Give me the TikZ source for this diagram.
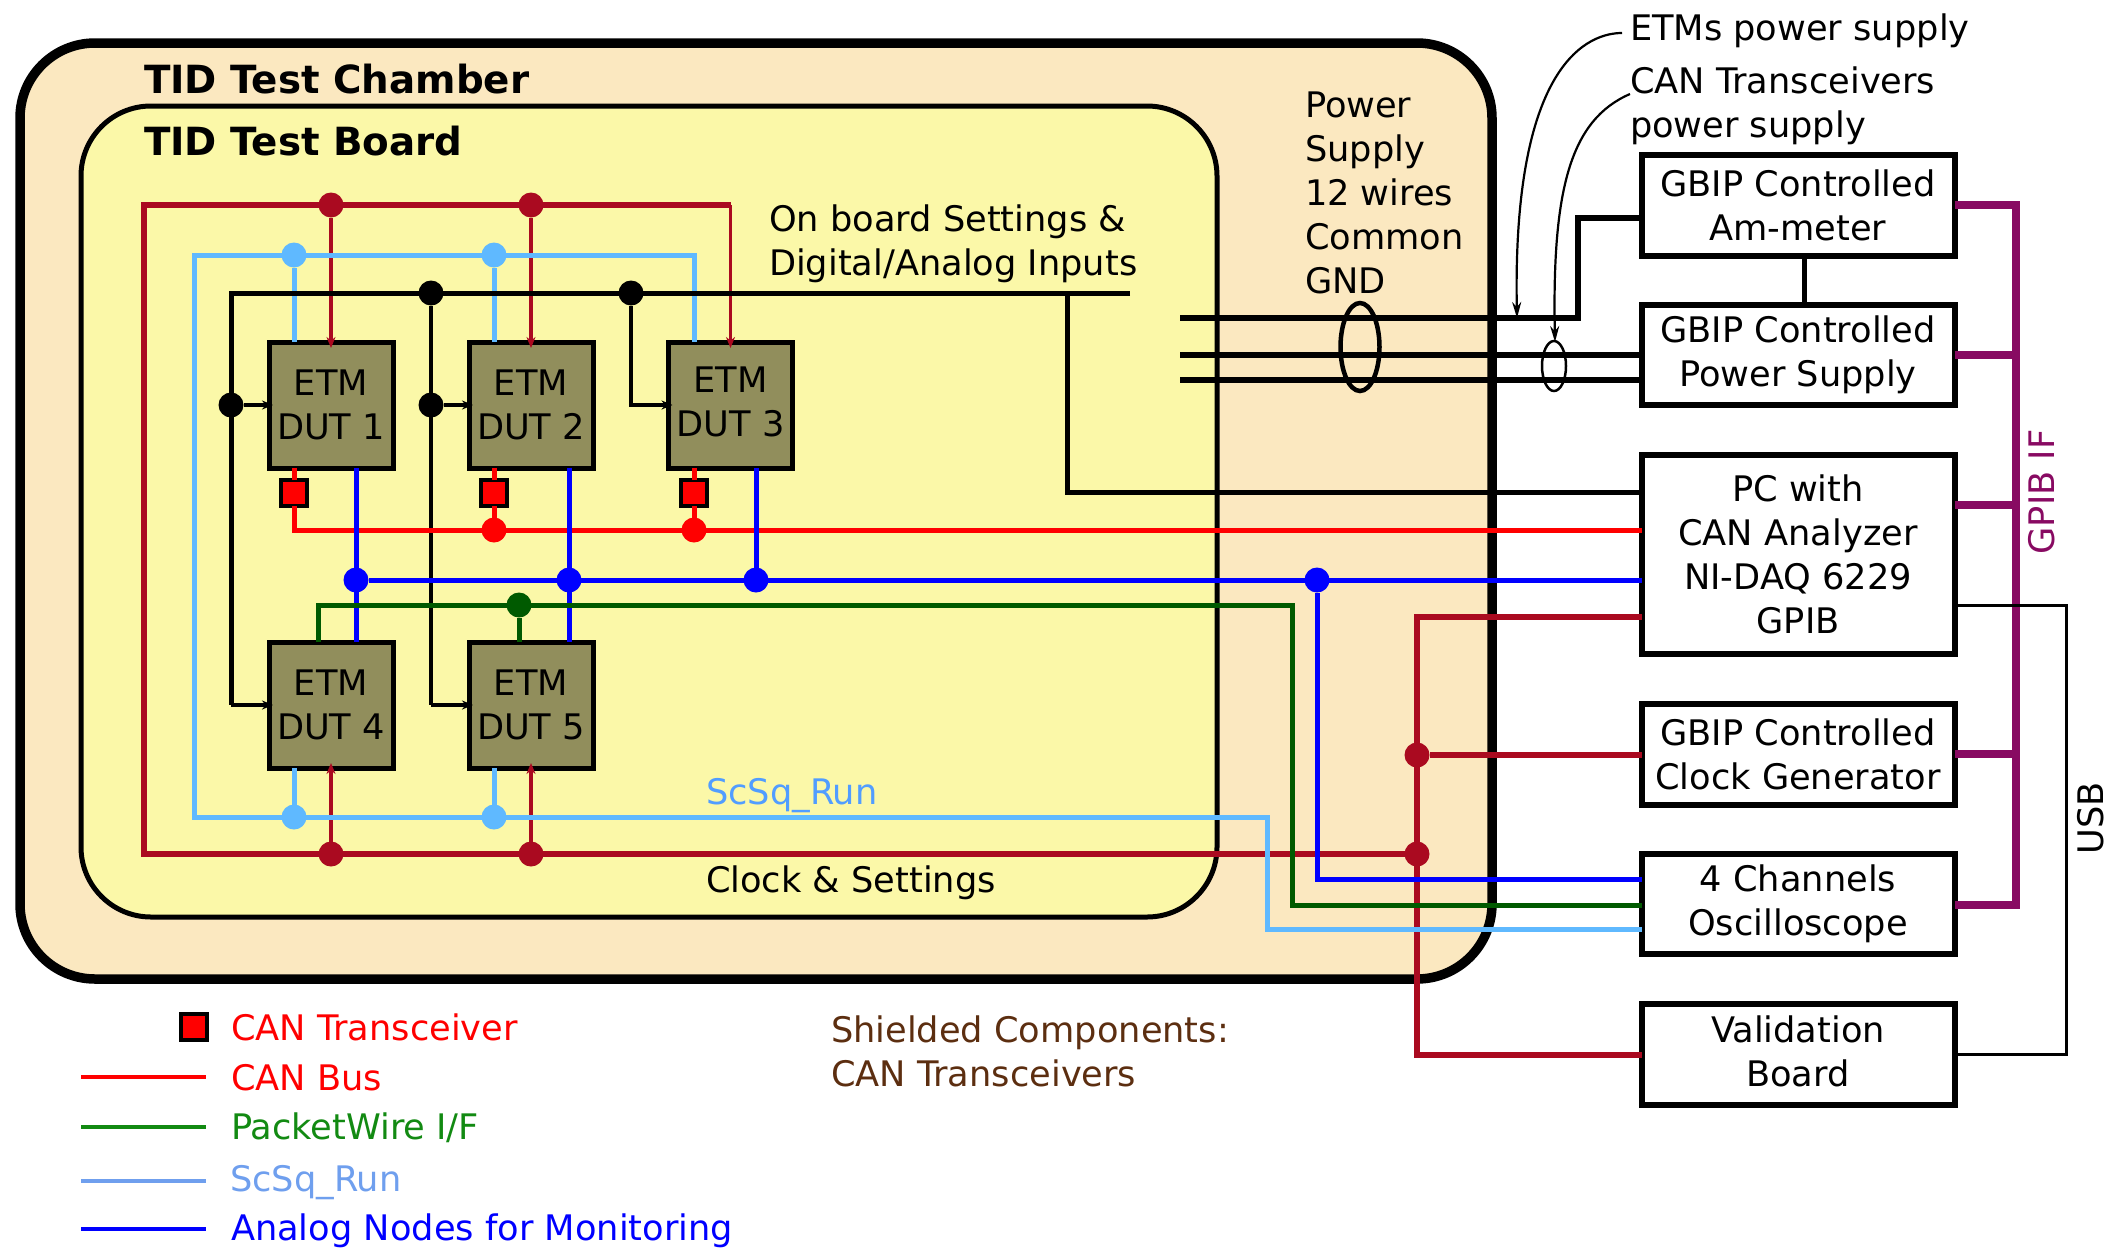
\documentclass[tikz,border=0pt]{standalone}
\usepackage{fontspec}
\setmainfont{DejaVu Sans}
\usetikzlibrary{arrows.meta,calc,shapes.geometric}
\definecolor{chamber}{HTML}{FBE8C0}
\definecolor{board}{HTML}{FBF8A8}
\definecolor{dutfill}{HTML}{918E5C}
\definecolor{dred}{HTML}{AA0A20}
\definecolor{lblue}{HTML}{5FB9FF}
\definecolor{dgreen}{HTML}{005A00}
\definecolor{gpib}{HTML}{880A62}
\definecolor{lgreen}{HTML}{128A12}
\definecolor{lgblue}{HTML}{6F9FEE}
\definecolor{brownt}{HTML}{5C2E10}
\tikzset{
  x=1pt,y=-1pt,
  txt/.style={anchor=base west,inner sep=0pt,outer sep=0pt,font=\fontsize{35.2}{44}\selectfont,align=left},
  ttl/.style={anchor=base west,inner sep=0pt,outer sep=0pt,font=\bfseries\fontsize{38.8}{44}\selectfont},
  dutbox/.style={draw=black,fill=dutfill,line width=5pt,minimum width=124pt,minimum height=126pt,inner sep=0pt,outer sep=0pt,align=center,font=\fontsize{35.2}{44}\selectfont},
  devbox/.style={draw=black,fill=white,line width=6pt,minimum width=313pt,inner sep=0pt,outer sep=0pt,align=center,font=\fontsize{35.2}{44}\selectfont},
  canbox/.style={draw=black,fill=red,line width=4.5pt,minimum width=26pt,minimum height=26pt,inner sep=0pt,outer sep=0pt},
  jdot/.style={circle,fill=#1,draw=none,minimum size=25pt,inner sep=0pt,outer sep=0pt},
  wire/.style={line width=#1,line join=miter},
  tipd/.style={-{Stealth[length=11pt,width=9pt]}},
  tips/.style={-{Stealth[length=16pt,width=9pt]}},
}
\begin{document}
\begin{tikzpicture}
\useasboundingbox (0,0) rectangle (2118,1248);
% enclosures
\node[draw=black,fill=chamber,line width=9.5pt,rounded corners=75pt,minimum width=1472pt,minimum height=936pt,inner sep=0pt,outer sep=0pt] (chamberbox) at (756,511) {};
\node[draw=black,fill=board,line width=5pt,rounded corners=70pt,minimum width=1136pt,minimum height=811pt,inner sep=0pt,outer sep=0pt] (boardbox) at (649,511.5) {};
\node[ttl] (chambertitle) at (144,93) {TID Test Chamber};
\node[ttl] (boardtitle) at (144,155) {TID Test Board};

% devices
\node[dutbox] (d1) at (331,405) {ETM\\DUT 1};
\node[dutbox] (d2) at (531,405) {ETM\\DUT 2};
\node[dutbox] (d3) at (730.5,405) {ETM\\DUT 3\rule[-6pt]{0pt}{0pt}};
\node[dutbox] (d4) at (331,705) {ETM\\DUT 4};
\node[dutbox] (d5) at (531,705) {ETM\\DUT 5};
\node[canbox] (c1) at (294,493) {};
\node[canbox] (c2) at (494,493) {};
\node[canbox] (c3) at (694,493) {};

\node[devbox,minimum height=101pt] (amm) at (1798,205.5) {GBIP Controlled\\Am-meter};
\node[devbox,minimum height=100pt] (psu) at (1798,355) {GBIP Controlled\\Power Supply};
\node[devbox,minimum height=199pt] (pc) at (1798,554.5) {PC with\\CAN Analyzer\\NI-DAQ 6229\\GPIB};
\node[devbox,minimum height=101pt] (clk) at (1798,754) {GBIP Controlled\\Clock Generator};
\node[devbox,minimum height=100pt] (osc) at (1798,904) {4 Channels\\Oscilloscope};
\node[devbox,minimum height=101pt] (val) at (1798,1054.5) {Validation\\Board\rule[-6pt]{0pt}{0pt}};

% junctions
\foreach \n/\x/\y/\c in {rt1/331/205/dred,rt2/531/205/dred,rb1/331/854/dred,rb2/531/854/dred,rr1/1417/854/dred,rr2/1417/755/dred,
  lt1/294/255/lblue,lt2/494/255/lblue,lb1/294/817/lblue,lb2/494/817/lblue,
  kt1/431/293/black,kt2/631/293/black,kl1/231/405/black,kl2/431/405/black,
  cd2/494/530/red,cd3/694/530/red,
  ad1/356/580/blue,ad2/569/580/blue,ad3/756/580/blue,ad4/1317/580/blue,
  gd1/519/605/dgreen}
  {\node[jdot=\c] (\n) at (\x,\y) {};}

% free ends and corners
\coordinate (rtl) at (144,205);
\coordinate (rtr) at (730.5,205);
\coordinate (rbl) at (144,854);
\coordinate (ltl) at (194,255);
\coordinate (ltr) at (694,255);
\coordinate (lbl) at (194,817);
\coordinate (lbr) at (1267,817);
\coordinate (ktl) at (231,293);
\coordinate (ktr) at (1130,293);
\coordinate (pcdrop) at (1067,293);
\coordinate (canl) at (294,530);
\coordinate (greenl) at (318,605);
\coordinate (greenr) at (1292,605);
\coordinate (pw1l) at (1180,318);
\coordinate (pw1r) at (1578,318);
\coordinate (pw2l) at (1180,355);
\coordinate (pw3l) at (1180,380);
\coordinate (rvtop) at (1417,617);
\coordinate (rvbot) at (1417,1055);
\coordinate (gpibtop) at (2016,205);
\coordinate (gpibbot) at (2016,905);
\coordinate (usbtop) at (2066,605);
\coordinate (usbbot) at (2066,1054);
\coordinate (etmtail) at (1622,33);
\coordinate (cantail) at (1630,94);
\coordinate (etmhead) at (1517,318);
\coordinate (canhead) at (1555,342);

% dark red clock & settings
\draw[dred,wire=6.5pt] (rtr) -- (rtl) -- (rbl) -- (rr1);
\draw[dred,wire=3.5pt,tipd] (rt1) -- ([yshift=-6pt]d1.north);
\draw[dred,wire=3.5pt,tipd] (rt2) -- ([yshift=-6pt]d2.north);
\draw[dred,wire=3.5pt,tipd] (rtr) -- ([yshift=-6pt]d3.north);
\draw[dred,wire=3.5pt,tipd] (rb1) -- ([yshift=5pt]d4.south);
\draw[dred,wire=3.5pt,tipd] (rb2) -- ([yshift=5pt]d5.south);
\draw[dred,wire=6pt] (rvtop -| pc.west) -- (rvtop) -- (rvbot) -- (rvbot -| val.west);
\draw[dred,wire=6pt] (rr2) -- (rr2 -| clk.west);

% light blue ScSq_Run
\draw[lblue,wire=5pt] (lt1 |- d1.north) -- (lt1);
\draw[lblue,wire=5pt] (lt2 |- d2.north) -- (lt2);
\draw[lblue,wire=5pt] (ltr |- d3.north) -- (ltr) -- (ltl) -- (lbl) -- (lbr) |- (osc.west |- 0,929);
\draw[lblue,wire=5pt] (lb1 |- d4.south) -- (lb1);
\draw[lblue,wire=5pt] (lb2 |- d5.south) -- (lb2);

% black settings
\draw[wire=5pt] (ktr) -- (ktl) -- (ktl |- d4.west);
\draw[wire=4pt,tipd] (ktl |- d4.west) -- ([xshift=4pt]d4.west);
\draw[wire=4.5pt] (kt1) -- (kt1 |- d5.west);
\draw[wire=4pt,tipd] (kt1 |- d5.west) -- ([xshift=4pt]d5.west);
\draw[wire=3.5pt,tipd] (kt2) |- ([xshift=4pt]d3.west);
\draw[wire=4pt,tipd] (kl1) -- ([xshift=4pt]d1.west);
\draw[wire=4pt,tipd] (kl2) -- ([xshift=4pt]d2.west);
\draw[wire=5pt] (pcdrop) |- (pc.west |- 0,492);

% CAN bus
\draw[red,wire=5pt] (c1.north) -- (c1.north |- d1.south);
\draw[red,wire=5pt] (c2.north) -- (c2.north |- d2.south);
\draw[red,wire=5pt] (c3.north) -- (c3.north |- d3.south);
\draw[red,wire=5pt] (c1.south) -- (canl) -- (canl -| pc.west);
\draw[red,wire=5pt] (c2.south) -- (cd2);
\draw[red,wire=5pt] (c3.south) -- (cd3);

% analog monitoring
\draw[blue,wire=5pt] (d1.south -| ad1) -- (d4.north -| ad1);
\draw[blue,wire=5pt] (d2.south -| ad2) -- (d5.north -| ad2);
\draw[blue,wire=5pt] (d3.south -| ad3) -- (ad3);
\draw[blue,wire=5pt] (ad1) -- (ad1 -| pc.west);
\draw[blue,wire=5pt] (ad4) |- (osc.west |- 0,879);

% packet wire
\draw[dgreen,wire=5pt] (greenl |- d4.north) -- (greenl) -- (greenr) |- (osc.west |- 0,905);
\draw[dgreen,wire=5pt] (gd1) -- (gd1 |- d5.north);

% power wires
\draw[wire=6pt] (pw1l) -- (pw1r) |- (amm.west |- 0,218);
\draw[wire=6pt] (pw2l) -- (psu.west |- pw2l);
\draw[wire=6pt] (pw3l) -- (psu.west |- pw3l);
\draw[wire=5pt] (amm.south -| 1804,0) -- (psu.north -| 1804,0);
\node[draw=black,line width=4.5pt,ellipse,minimum width=39pt,minimum height=88pt,inner sep=0pt] (bundleA) at (1360,347) {};
\node[draw=black,line width=2.5pt,ellipse,minimum width=24pt,minimum height=50pt,inner sep=0pt] (bundleB) at (1554,366) {};
\draw[line width=2.2pt,tips] (etmtail) .. controls (1590,33) and (1512,60) .. (etmhead);
\draw[line width=2.2pt,tips] (cantail) .. controls (1570,120) and (1552,190) .. (canhead);

% GPIB and USB
\draw[gpib,wire=7.5pt] (amm.east |- gpibtop) -- (gpibtop) -- (gpibbot) -- (osc.east |- gpibbot);
\draw[gpib,wire=7.5pt] (psu.east) -- (psu.east -| gpibtop);
\draw[gpib,wire=7.5pt] (pc.east |- 0,505) -- (gpibtop |- 0,505);
\draw[gpib,wire=7.5pt] (clk.east) -- (clk.east -| gpibtop);
\draw[wire=3pt] (pc.east |- usbtop) -- (usbtop) -- (usbbot) -- (val.east |- usbbot);

% labels
\node[txt] (letm) at (1630,40) {ETMs power supply};
\node[txt,anchor=north west] (lcan) at (1630,66.5) {CAN Transceivers\\power supply};
\node[txt,anchor=north west] (lps) at (1305,92) {Power\\Supply\\12 wires\\Common\\GND};
\node[txt,anchor=north west] (lob) at (769,205) {On board Settings \&\\Digital/Analog Inputs};
\node[txt,text=lblue!85!blue] (lscsq) at (706,804) {ScSq\_Run};
\node[txt] (lclk) at (706,892) {Clock \& Settings};
\node[txt,rotate=90,anchor=center,text=gpib] (lgpib) at (2042,492) {GPIB IF};
\node[txt,rotate=90,anchor=center] (lusb) at (2091,818) {USB};

% legend
\node[canbox] (lgbox) at (194,1027) {};
\coordinate (lg1a) at (81,1077); \coordinate (lg1b) at (206,1077);
\coordinate (lg2a) at (81,1127); \coordinate (lg2b) at (206,1127);
\coordinate (lg3a) at (81,1181); \coordinate (lg3b) at (206,1181);
\coordinate (lg4a) at (81,1229); \coordinate (lg4b) at (206,1229);
\draw[red,line width=4pt] (lg1a) -- (lg1b);
\draw[lgreen,line width=4pt] (lg2a) -- (lg2b);
\draw[lgblue,line width=4pt] (lg3a) -- (lg3b);
\draw[blue,line width=4pt] (lg4a) -- (lg4b);
\node[txt,text=red] (t1) at (231,1040) {CAN Transceiver};
\node[txt,text=red] (t2) at (231,1090) {CAN Bus};
\node[txt,text=lgreen] (t3) at (231,1139) {PacketWire I/F};
\node[txt,text=lgblue] (t4) at (230,1191) {ScSq\_Run};
\node[txt,text=blue] (t5) at (231,1240) {Analog Nodes for Monitoring};
\node[txt,text=brownt,anchor=north west] (t6) at (831,1016) {Shielded Components:\\CAN Transceivers};
\end{tikzpicture}
\end{document}
